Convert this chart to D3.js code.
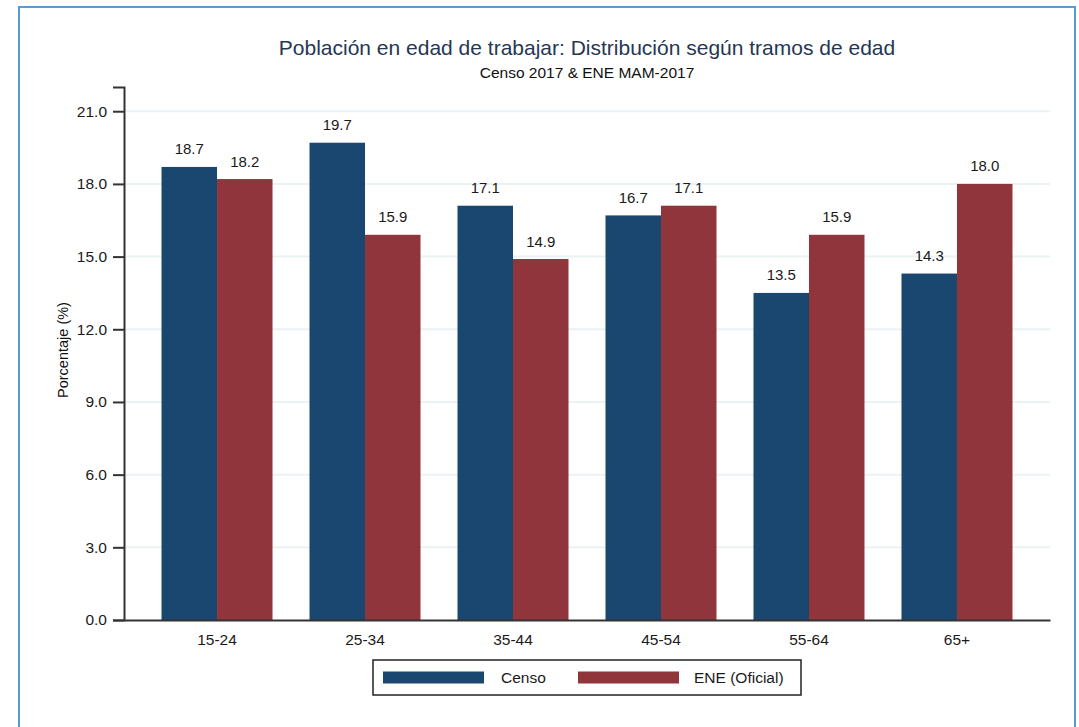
<!DOCTYPE html>
<html>
<head>
<meta charset="utf-8">
<script src="https://cdn.jsdelivr.net/npm/d3@7"></script>
<style>
  body { margin: 0; background: #fff; }
  svg { display: block; font-family: "Liberation Sans", Arial, sans-serif; }
</style>
</head>
<body>
<div id="chart"></div>
<script>
let categories = ["15-24", "25-34", "35-44", "45-54", "55-64", "65+"];
let seriesNames = ["Censo", "ENE (Oficial)"];
let censo = [18.7, 19.7, 17.1, 16.7, 13.5, 14.3];
let ene = [18.2, 15.9, 14.9, 17.1, 15.9, 18.0];
let yTicks = [0, 3, 6, 9, 12, 15, 18, 21];
let colorMap = {"Censo": "#1a476f", "ENE (Oficial)": "#90353b"};

let W = 1079, H = 727;
let plot = {left: 124, right: 1050, top: 87, bottom: 620};

let data = categories.map(function(c, i) {
  return {cat: c, values: [{name: "Censo", value: censo[i]}, {name: "ENE (Oficial)", value: ene[i]}]};
});

let svg = d3.select("#chart")
            .append("svg")
            .attr("width", W)
            .attr("height", H);

// outer frame
svg.append("rect")
   .attr("x", 19).attr("y", 7)
   .attr("width", 1056).attr("height", 740)
   .attr("fill", "#fff")
   .attr("stroke", "#5b9bd5")
   .attr("stroke-width", 2);

let x0 = d3.scaleBand()
           .domain(categories)
           .range([plot.left, plot.right])
           .paddingInner(0.25)
           .paddingOuter(0.2535);
let x1 = d3.scaleBand()
           .domain(seriesNames)
           .range([0, x0.bandwidth()]);
let y = d3.scaleLinear()
          .domain([0, 22])
          .range([plot.bottom, plot.top]);

// grid
svg.append("g")
   .selectAll("line")
   .data(yTicks.filter(function(d) { return d > 0; }))
   .enter().append("line")
   .attr("x1", plot.left).attr("x2", plot.right)
   .attr("y1", function(d) { return y(d); })
   .attr("y2", function(d) { return y(d); })
   .attr("stroke", "#eaf2f3")
   .attr("stroke-width", 2);

// bars
let groups = svg.append("g")
   .selectAll("g")
   .data(data)
   .enter().append("g")
   .attr("transform", function(d) { return "translate(" + x0(d.cat) + ",0)"; });

groups.selectAll("rect")
   .data(function(d) { return d.values; })
   .enter().append("rect")
   .attr("x", function(d) { return x1(d.name); })
   .attr("width", x1.bandwidth())
   .attr("y", function(d) { return y(d.value); })
   .attr("height", function(d) { return y(0) - y(d.value); })
   .attr("fill", function(d) { return colorMap[d.name]; });

groups.selectAll("text")
   .data(function(d) { return d.values; })
   .enter().append("text")
   .attr("x", function(d) { return x1(d.name) + x1.bandwidth() / 2; })
   .attr("y", function(d) { return y(d.value) - 12.5; })
   .attr("text-anchor", "middle")
   .attr("font-size", 15)
   .attr("fill", "#1a1a1a")
   .text(function(d) { return d.value.toFixed(1); });

// y axis
let yAxis = svg.append("g")
   .attr("transform", "translate(" + plot.left + ",0)")
   .call(d3.axisLeft(y).tickValues(yTicks).tickSize(11).tickPadding(6)
           .tickFormat(d3.format(".1f")));
yAxis.select(".domain").attr("stroke", "#333").attr("stroke-width", 2);
yAxis.selectAll(".tick line").attr("stroke", "#333").attr("stroke-width", 2);
yAxis.selectAll(".tick text").attr("font-size", 15.5).attr("fill", "#1a1a1a")
     .attr("font-family", "Liberation Sans, Arial, sans-serif");

// x axis
let xAxis = svg.append("g")
   .attr("transform", "translate(0," + plot.bottom + ")")
   .call(d3.axisBottom(x0).tickSize(0).tickPadding(14));
xAxis.select(".domain").attr("stroke", "#333").attr("stroke-width", 2);
xAxis.selectAll(".tick text").attr("font-size", 15.5).attr("fill", "#1a1a1a")
     .attr("font-family", "Liberation Sans, Arial, sans-serif");

// titles
svg.append("text")
   .attr("x", (plot.left + plot.right) / 2)
   .attr("y", 55)
   .attr("text-anchor", "middle")
   .attr("font-size", 21)
   .attr("fill", "#263752")
   .text("Población en edad de trabajar: Distribución según tramos de edad");

svg.append("text")
   .attr("x", (plot.left + plot.right) / 2)
   .attr("y", 78)
   .attr("text-anchor", "middle")
   .attr("font-size", 15.5)
   .attr("fill", "#111")
   .text("Censo 2017 & ENE MAM-2017");

svg.append("text")
   .attr("transform", "translate(68,350) rotate(-90)")
   .attr("text-anchor", "middle")
   .attr("font-size", 14.5)
   .attr("fill", "#111")
   .text("Porcentaje (%)");

// legend
let legend = svg.append("g");
legend.append("rect")
   .attr("x", 373).attr("y", 660)
   .attr("width", 428).attr("height", 35)
   .attr("fill", "#fff")
   .attr("stroke", "#222")
   .attr("stroke-width", 1.5);

let legendX = [383, 578];
let textX = [501, 694];
seriesNames.forEach(function(s, i) {
  legend.append("rect")
     .attr("x", legendX[i]).attr("y", 671.5)
     .attr("width", 101).attr("height", 12)
     .attr("fill", colorMap[s]);
  legend.append("text")
     .attr("x", textX[i]).attr("y", 683)
     .attr("font-size", 15.5)
     .attr("fill", "#1a1a1a")
     .text(s);
});
</script>
</body>
</html>
